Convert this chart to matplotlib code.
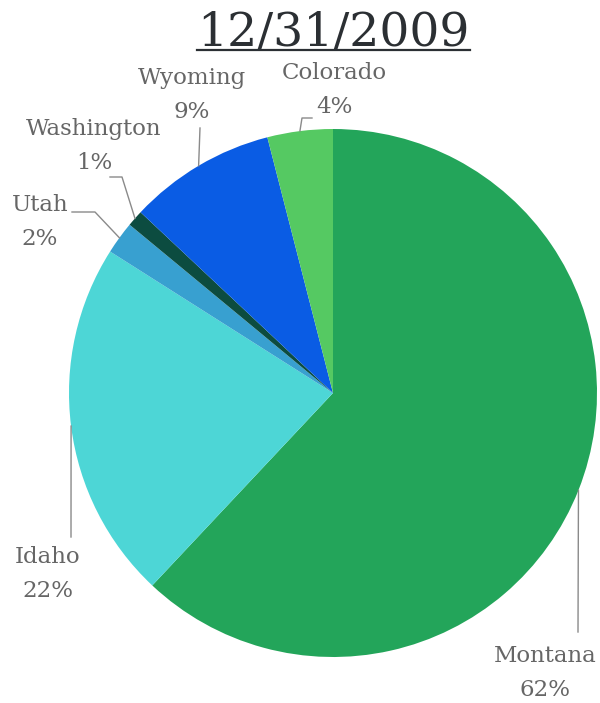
import numpy as np
import matplotlib
matplotlib.use("Agg")
import matplotlib.pyplot as plt
from matplotlib.lines import Line2D

# data
states = ["Montana", "Idaho", "Utah", "Washington", "Wyoming", "Colorado"]
shares = [62, 22, 2, 1, 9, 4]
colors = ["#23a55a", "#4dd6d6", "#38a0d0", "#0c4c40", "#0a5ce4", "#55c962"]
title = "12/31/2009"

# label layout (pixel coords in the 600x703 image): text center, then leader elbow & end
W, H = 600, 703
cx, cy, R = 333, 393, 264
label_xy = {
    "Montana": (545, 673),
    "Idaho": (48, 574),
    "Utah": (40, 222),
    "Washington": (94, 146),
    "Wyoming": (192, 95),
    "Colorado": (334, 90),
}
leader = {
    "Montana": [(578, 632)],
    "Idaho": [(71, 537)],
    "Utah": [(95, 212), (72, 212)],
    "Washington": [(122, 177), (110, 177)],
    "Wyoming": [(200, 128)],
    "Colorado": [(302, 118), (312, 118)],
}


def px2d(p):
    return ((p[0] - cx) / R, (cy - p[1]) / R)


fig = plt.figure(figsize=(W / 100, H / 100), dpi=100)
ax = fig.add_axes([(cx - R) / W, (H - cy - R) / H, 2 * R / W, 2 * R / H])

wedges, _ = ax.pie(shares, colors=colors, startangle=90, counterclock=False,
                   radius=1, center=(0, 0), frame=False)
ax.set_xlim(-1, 1)
ax.set_ylim(-1, 1)
ax.axis("off")

for w, name, pct in zip(wedges, states, shares):
    mid = np.deg2rad((w.theta1 + w.theta2) / 2)
    pts = [(np.cos(mid), np.sin(mid))] + [px2d(p) for p in leader[name]]
    xs, ys = zip(*pts)
    ax.plot(xs, ys, color="#8a8a8a", lw=1, clip_on=False)
    tx, ty = px2d(label_xy[name])
    ax.text(tx, ty, f"{name}\n{pct}%", ha="center", va="center",
            fontsize=16.5, family="DejaVu Serif", color="#666666",
            linespacing=1.7, clip_on=False)

fig.text(cx / W, 1 - 46 / H, title, ha="center", va="baseline",
         fontsize=34, family="DejaVu Serif", color="#2b2f33")
fig.add_artist(Line2D([197 / W, 470 / W], [1 - 50 / H, 1 - 50 / H],
                      color="#2b2f33", lw=1.6))

fig.savefig("out.png", dpi=100, facecolor="white")
